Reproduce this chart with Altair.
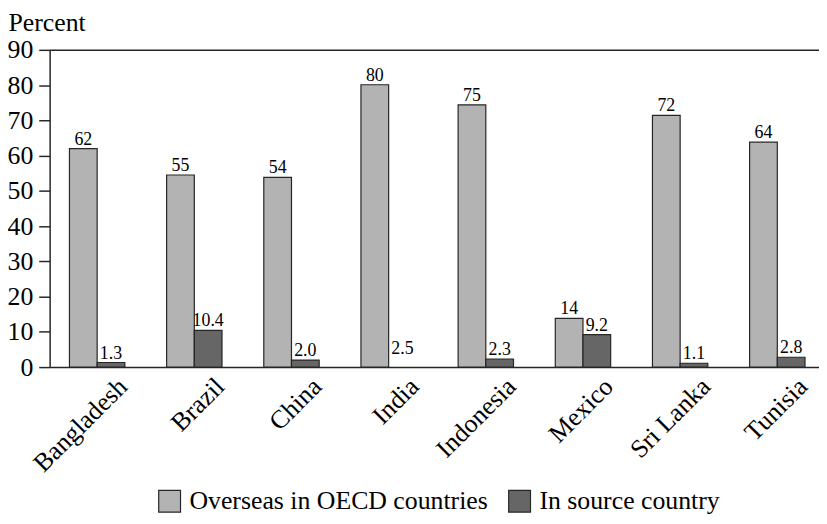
import altair as alt
import pandas as pd

countries = ["Bangladesh", "Brazil", "China", "India", "Indonesia", "Mexico", "Sri Lanka", "Tunisia"]
series = ["Overseas in OECD countries", "In source country"]

overseas_values = [62.0, 54.5, 53.8, 80.1, 74.4, 13.8, 71.4, 63.8]
overseas_labels = ["62", "55", "54", "80", "75", "14", "72", "64"]

source_values = [1.3, 10.4, 2.0, 2.5, 2.3, 9.2, 1.1, 2.8]
source_labels = ["1.3", "10.4", "2.0", "2.5", "2.3", "9.2", "1.1", "2.8"]
# In the original, India's "in source country" bar is not drawn (only its label)
source_bar_drawn = [True, True, True, False, True, True, True, True]

y_ticks = [0, 10, 20, 30, 40, 50, 60, 70, 80, 90]

rows = []
for i, c in enumerate(countries):
    rows.append({"country": c, "series": series[0], "value": overseas_values[i],
                 "label": overseas_labels[i], "drawn": True})
    rows.append({"country": c, "series": series[1], "value": source_values[i],
                 "label": source_labels[i], "drawn": source_bar_drawn[i]})
df = pd.DataFrame(rows)

FONT = "Liberation Serif"
FS = 26
LIGHT = "#b3b3b3"
DARK = "#666666"
INK = "#262626"

x_enc = alt.X(
    "country:N", sort=countries, title=None,
    scale=alt.Scale(paddingInner=0.43, paddingOuter=0.174, align=0.586),
    axis=alt.Axis(labelAngle=-45, labelAlign="right", labelBaseline="top",
                  labelOffset=17, labelPadding=6, ticks=False, domain=True,
                  domainColor=INK, domainWidth=1.5, labelFont=FONT, labelFontSize=FS,
                  labelColor="black", labelOverlap=False, labelBound=False),
)
xoff_enc = alt.XOffset("series:N", sort=series, scale=alt.Scale(paddingInner=0, paddingOuter=0))
y_enc = alt.Y(
    "value:Q",
    scale=alt.Scale(domain=[0, 90], nice=False, zero=True),
    axis=alt.Axis(values=y_ticks, title="Percent", titleAngle=0, titleX=-42, titleY=-40,
                  titleAlign="left", titleBaseline="top", titleFont=FONT, titleFontSize=FS,
                  titleFontWeight="normal", titleColor="black",
                  tickSize=11, tickColor=INK, tickWidth=1.5, domainColor=INK, domainWidth=1.5,
                  labelFont=FONT, labelFontSize=FS, labelColor="black", labelPadding=6,
                  labelOverlap=False, labelBound=False,
                  grid=True, gridColor=INK, gridWidth=1.5,
                  gridOpacity={"condition": {"test": "datum.value == 90", "value": 1}, "value": 0}),
)

base = alt.Chart(df).encode(x=x_enc, xOffset=xoff_enc, y=y_enc)

bars = base.transform_filter("datum.drawn").mark_bar(stroke=INK, strokeWidth=1.2).encode(
    color=alt.Color(
        "series:N", sort=series,
        scale=alt.Scale(domain=series, range=[LIGHT, DARK]),
        legend=alt.Legend(title=None, orient="none", direction="horizontal",
                          legendX=108, legendY=442, symbolType="square", symbolSize=484,
                          symbolStrokeColor=INK, symbolStrokeWidth=1.2,
                          labelFont=FONT, labelFontSize=FS, labelColor="black",
                          labelOffset=7, columnPadding=17, labelLimit=400),
    )
)

labels = base.mark_text(baseline="alphabetic", dy=-4, font=FONT, fontSize=18,
                        color="black").encode(text="label:N")

chart = alt.layer(bars, labels).properties(
    width=776, height=320,
    autosize=alt.AutoSizeParams(type="none"),
    padding={"left": 42, "top": 40, "right": 0, "bottom": 150},
).configure_view(stroke=None)

chart.save("out.html", embed_options={"renderer": "svg", "actions": False})
